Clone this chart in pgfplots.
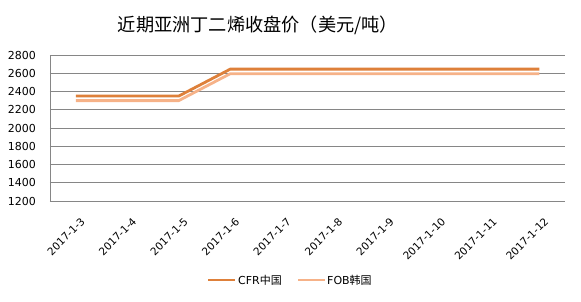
\documentclass[border=0pt]{standalone}
\usepackage{fontspec}
\setmainfont{DejaVu Sans}
\newfontfamily\cjk{Noto Sans CJK SC}
\usepackage{pgfplots}
\pgfplotsset{compat=1.18}
\definecolor{cfr}{RGB}{222,128,58}
\definecolor{fob}{RGB}{246,178,136}
\definecolor{gridc}{RGB}{134,134,134}
\begin{document}
\begin{tikzpicture}[x=1pt,y=1pt]
\useasboundingbox (0,0) rectangle (581,302);
\begin{axis}[
  at={(50pt,101pt)}, anchor=south west,
  scale only axis, width=515pt, height=146pt,
  xmin=-0.5, xmax=9.5, ymin=1200, ymax=2800,
  ytick={1200,1400,...,2800},
  xtick={0,...,9},
  xticklabels={2017-1-3,2017-1-4,2017-1-5,2017-1-6,2017-1-7,2017-1-8,2017-1-9,2017-1-10,2017-1-11,2017-1-12},
  xticklabel style={rotate=45, anchor=north east, font=\fontsize{10.5}{12}\selectfont, inner sep=0pt, xshift=-8pt, yshift=-14pt},
  yticklabel style={font=\fontsize{11}{12}\selectfont, xshift=-14pt, inner sep=0pt},
  /pgf/number format/assume math mode=true,
  /pgf/number format/1000 sep={},
  ymajorgrids, major grid style={gridc, line width=0.8pt},
  axis x line*=bottom,
  x axis line style={draw=none},
  axis y line*=left,
  y axis line style={gridc, line width=0.8pt, -},
  major tick length=0pt,
  clip=false,
]
\addplot[cfr, line width=2.8pt] coordinates {(0,2350)(1,2350)(2,2350)(3,2645)(4,2645)(5,2645)(6,2645)(7,2645)(8,2645)(9,2645)};
\addplot[fob, line width=2.8pt] coordinates {(0,2300)(1,2300)(2,2300)(3,2595)(4,2595)(5,2595)(6,2595)(7,2595)(8,2595)(9,2595)};
\end{axis}
\node[font=\cjk\fontsize{18.2}{20}\selectfont] at (258,277) {近期亚洲丁二烯收盘价（美元/吨）};
\draw[cfr, line width=2.8pt] (208,22) -- (235,22);
\node[anchor=west, inner sep=0pt, font=\fontsize{11}{12}\selectfont] at (238,22) {CFR{\cjk 中国}};
\draw[fob, line width=2.8pt] (298,22) -- (325,22);
\node[anchor=west, inner sep=0pt, font=\fontsize{11}{12}\selectfont] at (327,22) {FOB{\cjk 韩国}};
\end{tikzpicture}
\end{document}
